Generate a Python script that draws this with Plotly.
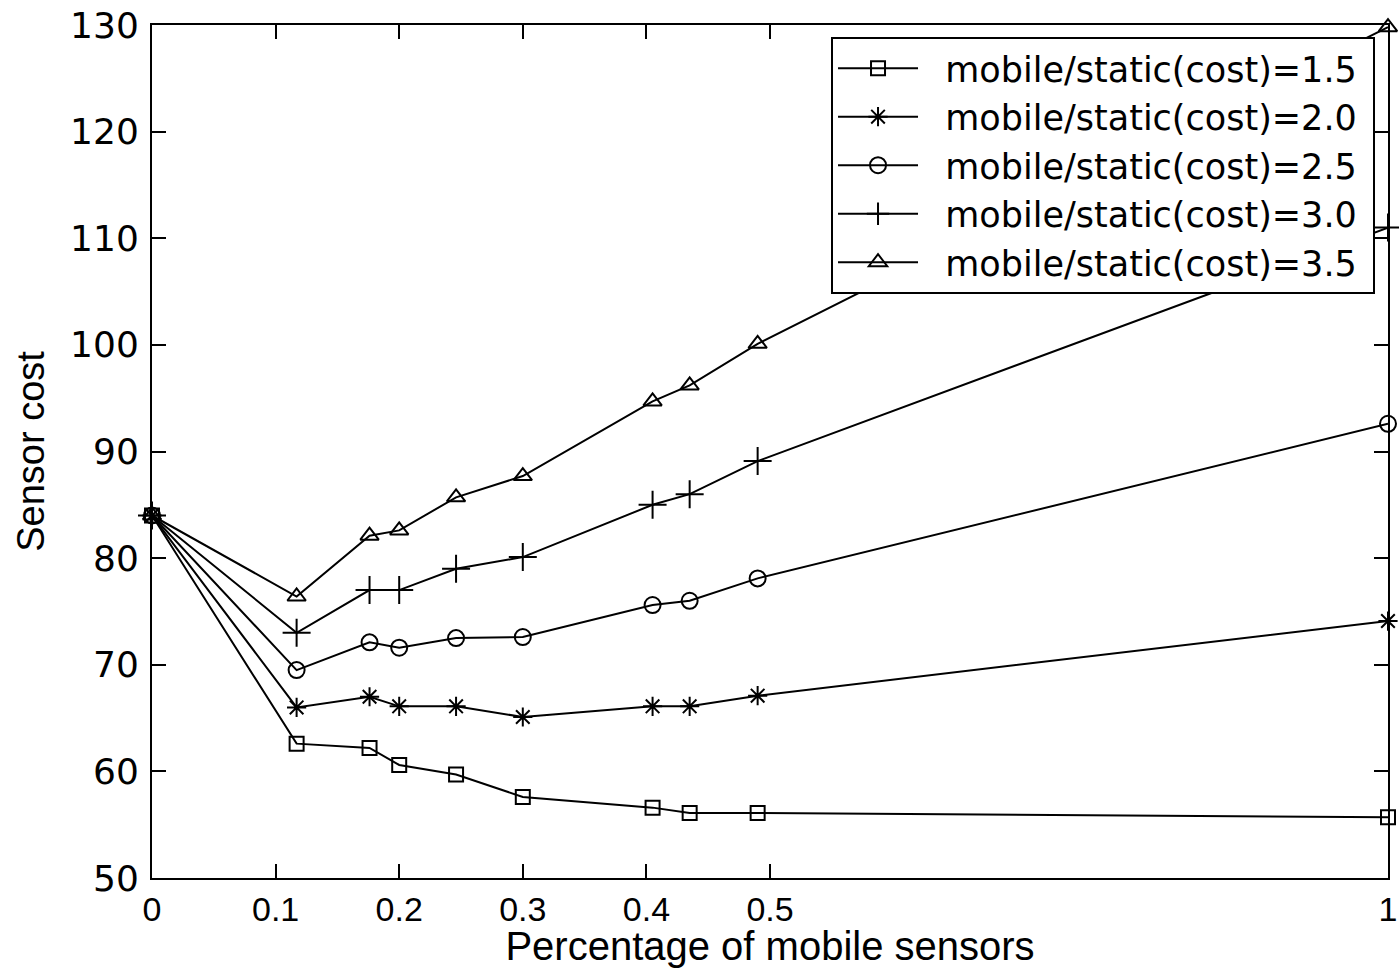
import plotly.graph_objects as go

# Data
x_pct = [0, 0.117, 0.176, 0.2, 0.246, 0.3, 0.405, 0.435, 0.49, 1.0]
cost_15 = [84, 62.6, 62.2, 60.6, 59.7, 57.6, 56.6, 56.1, 56.1, 55.7]
cost_20 = [84, 66.0, 67.0, 66.1, 66.1, 65.1, 66.1, 66.1, 67.1, 74.1]
cost_25 = [84, 69.5, 72.1, 71.6, 72.5, 72.6, 75.6, 76.0, 78.1, 92.6]
cost_30 = [84, 73.0, 77.0, 77.0, 79.0, 80.1, 85.0, 86.0, 89.1, 111.0]
cost_35 = [84, 76.4, 82.1, 82.6, 85.7, 87.7, 94.7, 96.2, 100.1, 129.8]

series_names = [
    "mobile/static(cost)=1.5",
    "mobile/static(cost)=2.0",
    "mobile/static(cost)=2.5",
    "mobile/static(cost)=3.0",
    "mobile/static(cost)=3.5",
]
series_values = [cost_15, cost_20, cost_25, cost_30, cost_35]
series_symbols = ["square-open", "asterisk-open", "circle-open", "cross-thin-open", "triangle-up-open"]
series_sizes = [14, 16, 16, 20, 16]

x_tickvals = [0, 0.1, 0.2, 0.3, 0.4, 0.5, 1]
x_ticktext = ["0", "0.1", "0.2", "0.3", "0.4", "0.5", "1"]
y_tickvals = [50, 60, 70, 80, 90, 100, 110, 120, 130]

NB = "\u00a0"

fig = go.Figure()
for name, vals, sym, sz in zip(series_names, series_values, series_symbols, series_sizes):
    fig.add_trace(go.Scatter(
        x=x_pct, y=vals, name=NB * 2 + name + NB, mode="lines+markers",
        line=dict(color="black", width=2),
        marker=dict(symbol=sym, size=sz, color="black",
                    line=dict(color="black", width=2)),
        cliponaxis=False,
    ))

fig.update_layout(
    width=1399, height=968,
    margin=dict(l=152, r=11, t=25, b=90),
    paper_bgcolor="white", plot_bgcolor="white",
    showlegend=True,
    legend=dict(
        x=0.9895, y=0.986, xanchor="right", yanchor="top",
        bgcolor="white", bordercolor="black", borderwidth=2,
        font=dict(family="DejaVu Sans, Liberation Sans, Arial", size=35, color="black"),
        itemwidth=80, tracegroupgap=0,
    ),
    xaxis=dict(
        range=[0, 1], tickmode="array", tickvals=x_tickvals, ticktext=x_ticktext,
        ticks="inside", ticklen=14, tickwidth=1.5, tickcolor="black",
        showline=True, linecolor="black", linewidth=2, mirror="ticks",
        showgrid=False, zeroline=False, automargin=False,
        tickfont=dict(family="Liberation Sans, Arial", size=34, color="black"),
        title=dict(text="Percentage of mobile sensors",
                   font=dict(family="Liberation Sans, Arial", size=40, color="black"),
                   standoff=0),
    ),
    yaxis=dict(
        range=[50, 130], tickmode="array", tickvals=y_tickvals,
        ticks="inside", ticklen=14, tickwidth=1.5, tickcolor="black",
        showline=True, linecolor="black", linewidth=2, mirror="ticks",
        showgrid=False, zeroline=False, automargin=False,
        tickfont=dict(family="DejaVu Sans, Liberation Sans, Arial", size=36, color="black"),
        ticklabelstandoff=4,
        title=dict(text="Sensor cost",
                   font=dict(family="Liberation Sans, Arial", size=38, color="black"),
                   standoff=14),
    ),
)

fig.write_html(
    "out.html",
    config={"displayModeBar": False},
    post_script="document.body.style.margin='0';document.body.style.padding='0';",
)
